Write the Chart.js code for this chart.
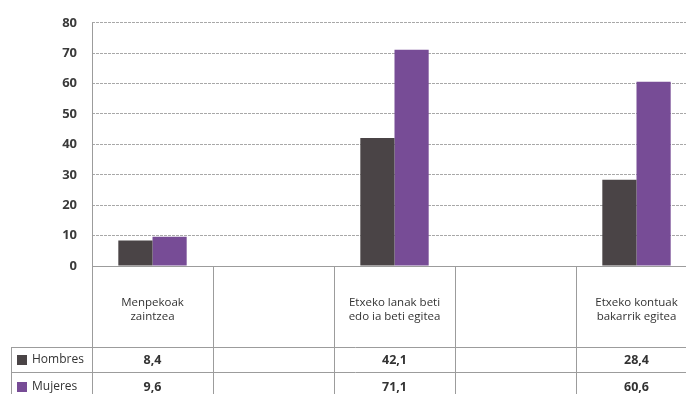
<!DOCTYPE html>
<html>
<head>
<meta charset="utf-8">
<script src="https://cdn.jsdelivr.net/npm/chart.js@4"></script>
<style>
  html, body { margin: 0; padding: 0; background: #fff; overflow: hidden; }
  #wrap { width: 686px; height: 394px; overflow: hidden; }
  canvas { display: block; }
</style>
</head>
<body>
<div id="wrap"><canvas id="chart" width="700" height="394"></canvas></div>
<script>
// categories (two-line labels), empty slots keep the spacing columns
const categories = [
    ['Menpekoak', 'zaintzea'],
    [],
    ['Etxeko lanak beti', 'edo ia beti egitea'],
    [],
    ['Etxeko kontuak', 'bakarrik egitea']
];
const hombres = [8.4, null, 42.1, null, 28.4];
const mujeres = [9.6, null, 71.1, null, 60.6];
const seriesNames = ['Hombres', 'Mujeres'];
const seriesColors = ['#4a4446', '#774c96'];
const yMax = 80;
const yStep = 10;

const lineColor = '#9c9c9c';
const textColor = '#333';

function fmt(v) {
    return v == null ? '' : v.toFixed(1).replace('.', ',');
}

// data table under the plot, drawn from the x scale
const tablePlugin = {
    id: 'dataTable',
    afterDraw(chart) {
        const { ctx, chartArea: area, scales: { x } } = chart;
        const W = chart.width, H = chart.height;
        const row1 = area.bottom + 81;
        const row2 = area.bottom + 106;
        const tableLeft = 11;

        ctx.save();
        ctx.strokeStyle = lineColor;
        ctx.lineWidth = 1;

        const line = (x1, y1, x2, y2) => {
            ctx.beginPath();
            ctx.moveTo(x1, y1);
            ctx.lineTo(x2, y2);
            ctx.stroke();
        };

        // y axis, continued down through the table
        line(Math.round(area.left) + 0.5, area.top, Math.round(area.left) + 0.5, H);
        // x axis
        line(area.left, Math.round(area.bottom) + 0.5, W, Math.round(area.bottom) + 0.5);

        // column dividers
        for (let i = 1; i < categories.length; i++) {
            const xx = Math.round((x.getPixelForValue(i - 1) + x.getPixelForValue(i)) / 2) + 0.5;
            line(xx, area.bottom, xx, H);
        }
        // row lines and left border
        line(tableLeft, row1 + 0.5, W, row1 + 0.5);
        line(tableLeft, row2 + 0.5, W, row2 + 0.5);
        line(tableLeft + 0.5, row1, tableLeft + 0.5, H);

        // category labels
        ctx.fillStyle = textColor;
        ctx.textAlign = 'center';
        ctx.textBaseline = 'middle';
        ctx.font = '11.5px "Open Sans", sans-serif';
        categories.forEach((lines, i) => {
            const cx = x.getPixelForValue(i);
            lines.forEach((t, j) => {
                ctx.fillText(t, cx, area.bottom + 37 + j * 14);
            });
        });

        // values
        ctx.font = 'bold 12.5px "Open Sans", sans-serif';
        [hombres, mujeres].forEach((vals, r) => {
            const cy = r === 0 ? row1 + 13 : row2 + 15;
            vals.forEach((v, i) => {
                if (v == null) return;
                ctx.fillText(fmt(v), x.getPixelForValue(i), cy);
            });
        });

        // legend keys in the first column
        ctx.font = '12px "Open Sans", sans-serif';
        ctx.textAlign = 'left';
        seriesNames.forEach((name, r) => {
            const cy = r === 0 ? row1 + 13 : row2 + 15;
            ctx.fillStyle = seriesColors[r];
            ctx.fillRect(17, cy - 5, 10, 10);
            ctx.fillStyle = textColor;
            ctx.fillText(name, 32, cy);
        });

        ctx.restore();
    }
};

new Chart(document.getElementById('chart'), {
    type: 'bar',
    data: {
        labels: categories.map(c => c.join(' ')),
        datasets: [
            {
                label: seriesNames[0],
                data: hombres,
                backgroundColor: seriesColors[0],
                barPercentage: 1,
                categoryPercentage: 0.565
            },
            {
                label: seriesNames[1],
                data: mujeres,
                backgroundColor: seriesColors[1],
                barPercentage: 1,
                categoryPercentage: 0.565
            }
        ]
    },
    options: {
        responsive: false,
        animation: false,
        layout: { padding: { top: 22, right: 3, bottom: 128, left: 0 } },
        plugins: {
            legend: { display: false },
            tooltip: { enabled: false }
        },
        scales: {
            x: { display: false },
            y: {
                min: 0,
                max: yMax,
                afterFit(scale) { scale.width = 92; },
                ticks: {
                    stepSize: yStep,
                    padding: 15,
                    color: '#3a3a3a',
                    font: { family: '"Open Sans", sans-serif', size: 13, weight: 'bold' }
                },
                grid: { color: '#a8a8a8', lineWidth: 1, drawTicks: false },
                border: { display: false, dash: [3, 1] }
            }
        }
    },
    plugins: [tablePlugin]
});
</script>
</body>
</html>
